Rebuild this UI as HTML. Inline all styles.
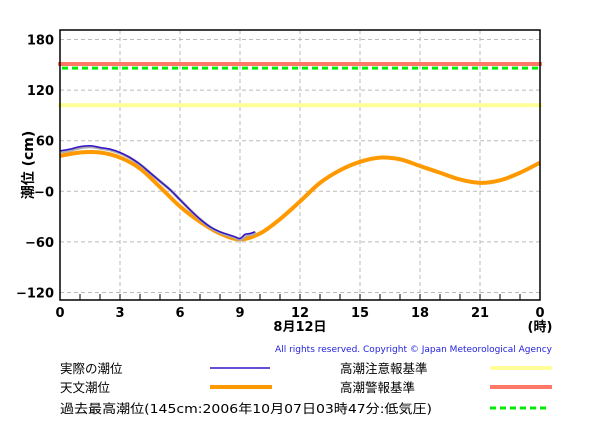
<!DOCTYPE html>
<html><head><meta charset="utf-8"><style>
body{margin:0;background:#fff;}
svg text{font-family:"DejaVu Sans","Noto Sans CJK JP",sans-serif;}
</style></head><body>
<svg width="600" height="440" viewBox="0 0 600 440" xmlns="http://www.w3.org/2000/svg">
<g id="grid"></g>
<g id="thresholds"></g>
<g id="series"></g>
<rect x="60" y="30" width="480" height="270" fill="none" stroke="#000" stroke-width="1.5"/>
<g id="axes"></g>
<text x="33" y="165" font-size="14" font-weight="bold" text-anchor="middle" transform="rotate(-90 33 165)">潮位 (cm)</text>
<text x="300" y="331" font-size="13" font-weight="bold" text-anchor="middle">8月12日</text>
<text x="540" y="331" font-size="13" font-weight="bold" text-anchor="middle">(時)</text>
<text x="552" y="352" font-size="9" fill="#2222dd" text-anchor="end">All rights reserved. Copyright © Japan Meteorological Agency</text>
<g font-size="12.5">
<text x="60" y="373">実際の潮位</text>
<line x1="210" y1="368" x2="270" y2="368" stroke="#3311cc" stroke-width="1.5"/>
<text x="60" y="392">天文潮位</text>
<line x1="210" y1="387" x2="272" y2="387" stroke="#ff9900" stroke-width="4"/>
<text x="60" y="413" textLength="372" lengthAdjust="spacingAndGlyphs">過去最高潮位(145cm:2006年10月07日03時47分:低気圧)</text>
<line x1="490" y1="408" x2="546" y2="408" stroke="#00ee00" stroke-width="3" stroke-dasharray="6,4"/>
<text x="340" y="373">高潮注意報基準</text>
<line x1="490" y1="368" x2="552" y2="368" stroke="#ffff99" stroke-width="4"/>
<text x="340" y="392">高潮警報基準</text>
<line x1="490" y1="387" x2="552" y2="387" stroke="#ff7766" stroke-width="4"/>
</g>
</svg>
<script>
const hours = [0,1,2,3,4,5,6,7,8,9,10,11,12,13,14,15,16,17,18,19,20,21,22,23,24];
const astronomical = [42,46,46,40,27,5,-18,-36,-50,-57,-50,-33,-12,10,25,35,40,38,30,22,14,10,13,22,34];
const obsHours = [0,0.5,1,1.5,2,2.5,3,3.5,4,4.5,5,5.5,6,6.5,7,7.5,8,8.5,8.75,9,9.25,9.5,9.75];
const observed = [48,50,53,54,52,50,46,40,32,22,12,2,-10,-22,-33,-42,-48,-52,-54,-56,-51,-50,-48];
const thresholdValues = [151,146,102];
const xTicks = ["0","3","6","9","12","15","18","21","0"];
const yTicks = [180,120,60,0,-60,-120];
const yTickLabels = ["180","120","60","−0","−60","−120"];

const NS="http://www.w3.org/2000/svg";
const X=h=>60+h*20;
const Y=v=>191.3-v*0.8433;
function mk(tag,attrs,parent){const e=document.createElementNS(NS,tag);for(const k in attrs)e.setAttribute(k,attrs[k]);parent.appendChild(e);return e;}
const grid=document.getElementById('grid'),axes=document.getElementById('axes'),ser=document.getElementById('series'),th=document.getElementById('thresholds');
yTicks.forEach((v,i)=>{
  const l=mk('line',{x1:60,x2:540,y1:Y(v),y2:Y(v),stroke:'#bbb','stroke-dasharray':'4,3'},grid);
  
  
  const t=mk('text',{x:54,y:Y(v)+5,'text-anchor':'end','font-size':'13','font-weight':'bold'},axes);
  t.textContent=yTickLabels[i];
  
  
});
xTicks.forEach((s,i)=>{
  const h=i*3;
  if(i>0&&i<8){const l=mk('line',{x1:X(h),x2:X(h),y1:30,y2:300,stroke:'#bbb','stroke-dasharray':'4,3'},grid);
  
  }
  const t=mk('text',{x:X(h),y:317,'text-anchor':'middle','font-size':'13','font-weight':'bold'},axes);
  t.textContent=s;
  
  
});
for(let h=1;h<24;h++){const l=mk('line',{x1:X(h),x2:X(h),y1:294,y2:300,stroke:'#000'},axes);
  
  }
const thColors=['#ff7766','#00ee00','#ffff99'];
const thNames=['warning-line','record-line','caution-line'];
thresholdValues.forEach((v,i)=>{
  const a={x1:58,x2:542,y1:Y(v),y2:Y(v),stroke:thColors[i],'stroke-width':i==1?3:4};
  if(i==1){a.x1=62;a.x2=538;a['stroke-dasharray']='6,4';}
  const l=mk('line',a,th);
  
  
});
function spline(xs,ys){
  let d='M'+X(xs[0])+','+Y(ys[0]);
  for(let i=0;i<xs.length-1;i++){
    const p0=i>0?i-1:i,p3=i+2<xs.length?i+2:i+1;
    const x0=X(xs[p0]),y0=Y(ys[p0]),x1=X(xs[i]),y1=Y(ys[i]),x2=X(xs[i+1]),y2=Y(ys[i+1]),x3=X(xs[p3]),y3=Y(ys[p3]);
    d+=' C'+(x1+(x2-x0)/6)+','+(y1+(y2-y0)/6)+' '+(x2-(x3-x1)/6)+','+(y2-(y3-y1)/6)+' '+x2+','+y2;
  }
  return d;
}
const ap=mk('path',{d:spline(hours,astronomical),fill:'none',stroke:'#ff9900','stroke-width':4},ser);


const od=spline(obsHours,observed);
const sh=mk('path',{d:od,fill:'none',stroke:'#aaa','stroke-width':3,transform:'translate(1,1)'},ser);


const op=mk('path',{d:od,fill:'none',stroke:'#3311cc','stroke-width':1.5},ser);


</script>
</body></html>
